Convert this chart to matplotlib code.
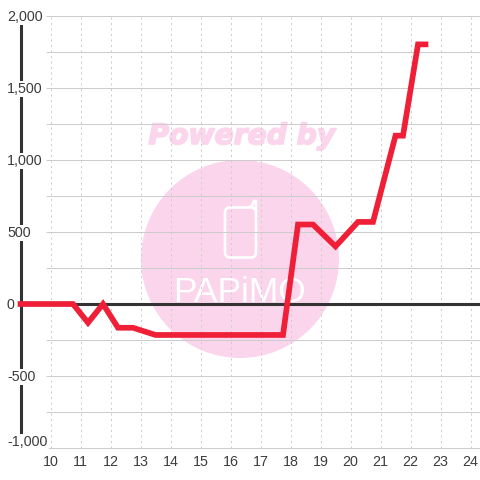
import numpy as np
import matplotlib
matplotlib.use('Agg')
import matplotlib.pyplot as plt
import matplotlib.patheffects as pe
from matplotlib.patches import Circle, FancyBboxPatch

plt.rcParams['font.family'] = ['Liberation Sans', 'DejaVu Sans']

# Series values
hours = [9, 10.75, 11.25, 11.75, 12.25, 12.75, 13.5, 17.75, 18.25, 18.75, 19.5,
         20.25, 20.75, 21.5, 21.75, 22.25, 22.5]
values = [0, 0, -130, 0, -165, -165, -215, -215, 552, 552, 400,
          570, 570, 1169, 1169, 1803, 1803]
x_ticks = list(range(10, 25))
y_labels = ['2,000', '1,500', '1,000', '500', '0', '-500', '-1,000']
y_ticks = [2000, 1500, 1000, 500, 0, -500, -1000]
y_grid = list(range(-1000, 2001, 250))

RED = '#EE1F36'
DARK = '#333333'
GRID = '#CCCCCC'
PINK = '#FBD5EC'
TEXT = '#3C3C3C'


def fx(px):
    return px / 480


def fy(py):
    return 1 - py / 480


fig = plt.figure(figsize=(4.8, 4.8), dpi=100)
ax = fig.add_axes([0, 0, 1, 1], facecolor='none')
ax.set_xlim(10 - 50.5 / 30, 10 + 429.5 / 30)
ax.set_ylim((304 - 480) / 72 * 500, 304 / 72 * 500)
ax.axis('off')

# Watermark behind the chart
fig.add_artist(Circle((fx(240), fy(259)), 99 / 480, color=PINK, lw=0,
                      transform=fig.transFigure, zorder=-1))
fig.text(fx(242), fy(136), 'Powered by', color=PINK, fontsize=20.3, fontweight='bold',
         fontstyle='italic', ha='center', va='center', family='DejaVu Sans', zorder=-1,
         path_effects=[pe.withStroke(linewidth=1.2, foreground=PINK)])
fig.add_artist(FancyBboxPatch((fx(225), fy(257.5)), 31 / 480, 50 / 480,
                              boxstyle='round,pad=0,rounding_size=0.011', fc='none',
                              ec='white', lw=1.9, transform=fig.transFigure, zorder=-1))
fig.add_artist(plt.Line2D([fx(249), fx(252), fx(254), fx(256), fx(256)],
                          [fy(207), fy(206), fy(201), fy(201), fy(212)], color='white', lw=1.9,
                          transform=fig.transFigure, zorder=-1))
fig.text(fx(239), fy(292), 'PAPiMO', color='white', fontsize=25.5, ha='center', va='center',
         family='Liberation Sans', zorder=-1)

# Grid
x_left = 10 - 4.5 / 30
ax.hlines(y_grid, x_left, ax.get_xlim()[1], color=GRID, lw=0.72, zorder=1)
ax.vlines(x_ticks, -1000, 2000, color=GRID, lw=0.72, linestyles=(0, (2, 3.5)), zorder=1)

# Axes lines
ax.plot([9, 9], [-1000, 2000], color=DARK, lw=2.2, solid_capstyle='butt', zorder=2)
ax.plot([9, ax.get_xlim()[1]], [0, 0], color=DARK, lw=2.2, solid_capstyle='butt', zorder=2)

# Labels mask the vertical axis
for val, lab in zip(y_ticks, y_labels):
    y_pos = val - 7 if val != -1000 else val + 42
    ax.text(x_left - 39 / 30, y_pos, lab, color=TEXT, fontsize=10.3, ha='left',
            va='center', zorder=3,
            bbox=dict(fc='white', ec='none', pad=0.8))
for t in x_ticks:
    ax.text(t, (304 - 462) / 72 * 500, str(t), color=TEXT, fontsize=10.3,
            ha='center', va='center', zorder=3)

ax.plot(hours, values, color=RED, lw=4.1, solid_joinstyle='miter',
        solid_capstyle='projecting', zorder=4)

fig.savefig('out.png', dpi=100)
